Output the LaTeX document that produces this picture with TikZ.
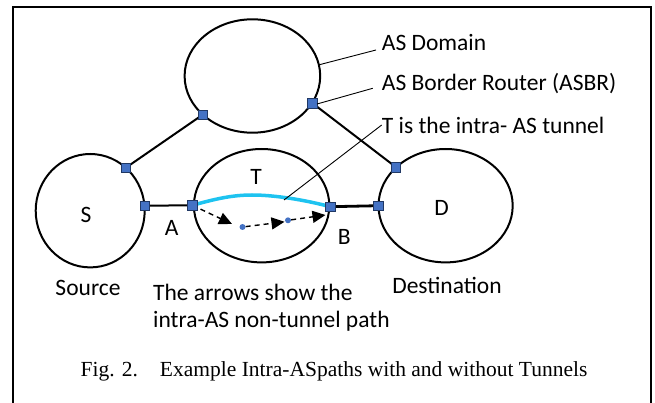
\documentclass[tikz,border=0pt]{standalone}
\usepackage{fontspec}
\setmainfont{Carlito}
\newfontfamily\capfont{Liberation Serif}
\usetikzlibrary{shapes.geometric,arrows.meta}
\definecolor{sqblue}{HTML}{4472C4}
\definecolor{sqedge}{HTML}{203864}
\definecolor{tunnel}{HTML}{1EC3F0}
\begin{document}
\begin{tikzpicture}[x=1pt,y=-1pt,
  dom/.style={ellipse,draw,line width=2pt,inner sep=0pt},
  rtr/.style={rectangle,draw=sqedge,fill=sqblue,line width=0.8pt,minimum size=9.5pt,inner sep=0pt},
  hop/.style={circle,fill=sqblue,minimum size=6pt,inner sep=0pt},
  lbl/.style={font=\fontsize{23.5}{27}\selectfont,inner sep=0pt},
  link/.style={line width=2pt},
  leader/.style={line width=0.9pt},
  hoparrow/.style={dashed,line width=1.4pt,dash pattern=on 5pt off 4pt,-{Triangle[length=13pt,width=12pt]}}]
\useasboundingbox (0,0) rectangle (655,403);
\draw[line width=2.3pt] (12.7,410) -- (12.7,7.3) -- (650.7,7.3) -- (650.7,410);
% domains
\node[dom,minimum width=135.6pt,minimum height=113.4pt] (top) at (252.4,76) {};
\node[dom,minimum width=109pt,minimum height=113.4pt] (src) at (90.2,210.7) {};
\node[dom,minimum width=135.4pt,minimum height=113.4pt] (mid) at (261.6,205.7) {};
\node[dom,minimum width=134.2pt,minimum height=113.4pt] (dst) at (445.6,205.7) {};
% links
\coordinate (r1) at (202.7,114.7);
\coordinate (r2) at (312.6,103.3);
\coordinate (r3) at (125.9,167.7);
\coordinate (r4) at (144.8,205.7);
\coordinate (ra) at (192.4,205.3);
\coordinate (rb) at (330.3,206.7);
\coordinate (r7) at (378.5,205.7);
\coordinate (r8) at (396.1,167.3);
\draw[link] (r1) -- (r3);
\draw[link] (r2) -- (r8);
\draw[link] (r4) -- (ra);
\draw[line width=2.8pt] (rb) -- (r7);
% tunnel
\coordinate (peak) at (252,195);
\draw[tunnel,line width=3.5pt] (ra) .. controls (215,199) and (232,195) .. (peak) .. controls (275,195) and (305,200) .. (rb);
% hops
\node[hop] (h1) at (242.5,227) {};
\node[hop] (h2) at (288,220.3) {};
\coordinate (t1) at (232,224);
\coordinate (t2) at (284.5,221.8);
\coordinate (t3) at (325.5,215);
\draw[hoparrow] (ra) -- (t1);
\draw[hoparrow] (h1) -- (t2);
\draw[hoparrow] (h2) -- (t3);
% routers
\foreach \r in {r1,r2,r3,r4,ra,rb,r7,r8} \node[rtr] (n\r) at (\r) {};
% labels
\node[lbl] (ls) at (86,215) {S};
\node[lbl] (la) at (171.7,228.3) {A};
\node[lbl] (lt) at (256,176.7) {T};
\node[lbl] (lb) at (344.3,237.3) {B};
\node[lbl] (ld) at (441.5,208.3) {D};
\node[lbl] (lsrc) at (88,288.3) {Source};
\node[lbl] (ldst) at (447,285) {Destination};
\node[lbl,anchor=north west,align=left,font=\fontsize{23.5}{26.7}\selectfont] (larr) at (153,284) {The arrows show the\\intra-AS non-tunnel path};
\node[lbl,anchor=west] (ldom) at (381.7,42.7) {AS Domain};
\node[lbl,anchor=west] (lasbr) at (381.7,83.3) {AS Border Router (ASBR)};
\node[lbl,anchor=west] (ltun) at (381.7,125) {T is the intra- AS tunnel};
% leaders
\coordinate (e1) at (318.3,65);
\coordinate (e2) at (376,50);
\coordinate (e3) at (317,104);
\coordinate (e4) at (372.7,88.3);
\coordinate (e5) at (284,200);
\draw[leader] (e1) -- (e2);
\draw[leader] (e3) -- (e4);
\draw[leader] (e5) -- (ltun.west);
% caption
\node[inner sep=0pt,font=\capfont\fontsize{21.5}{25}\selectfont] (cap) at (334,371) {Fig. 2.\hspace{22pt}Example Intra-ASpaths with and without Tunnels};
\end{tikzpicture}
\end{document}
